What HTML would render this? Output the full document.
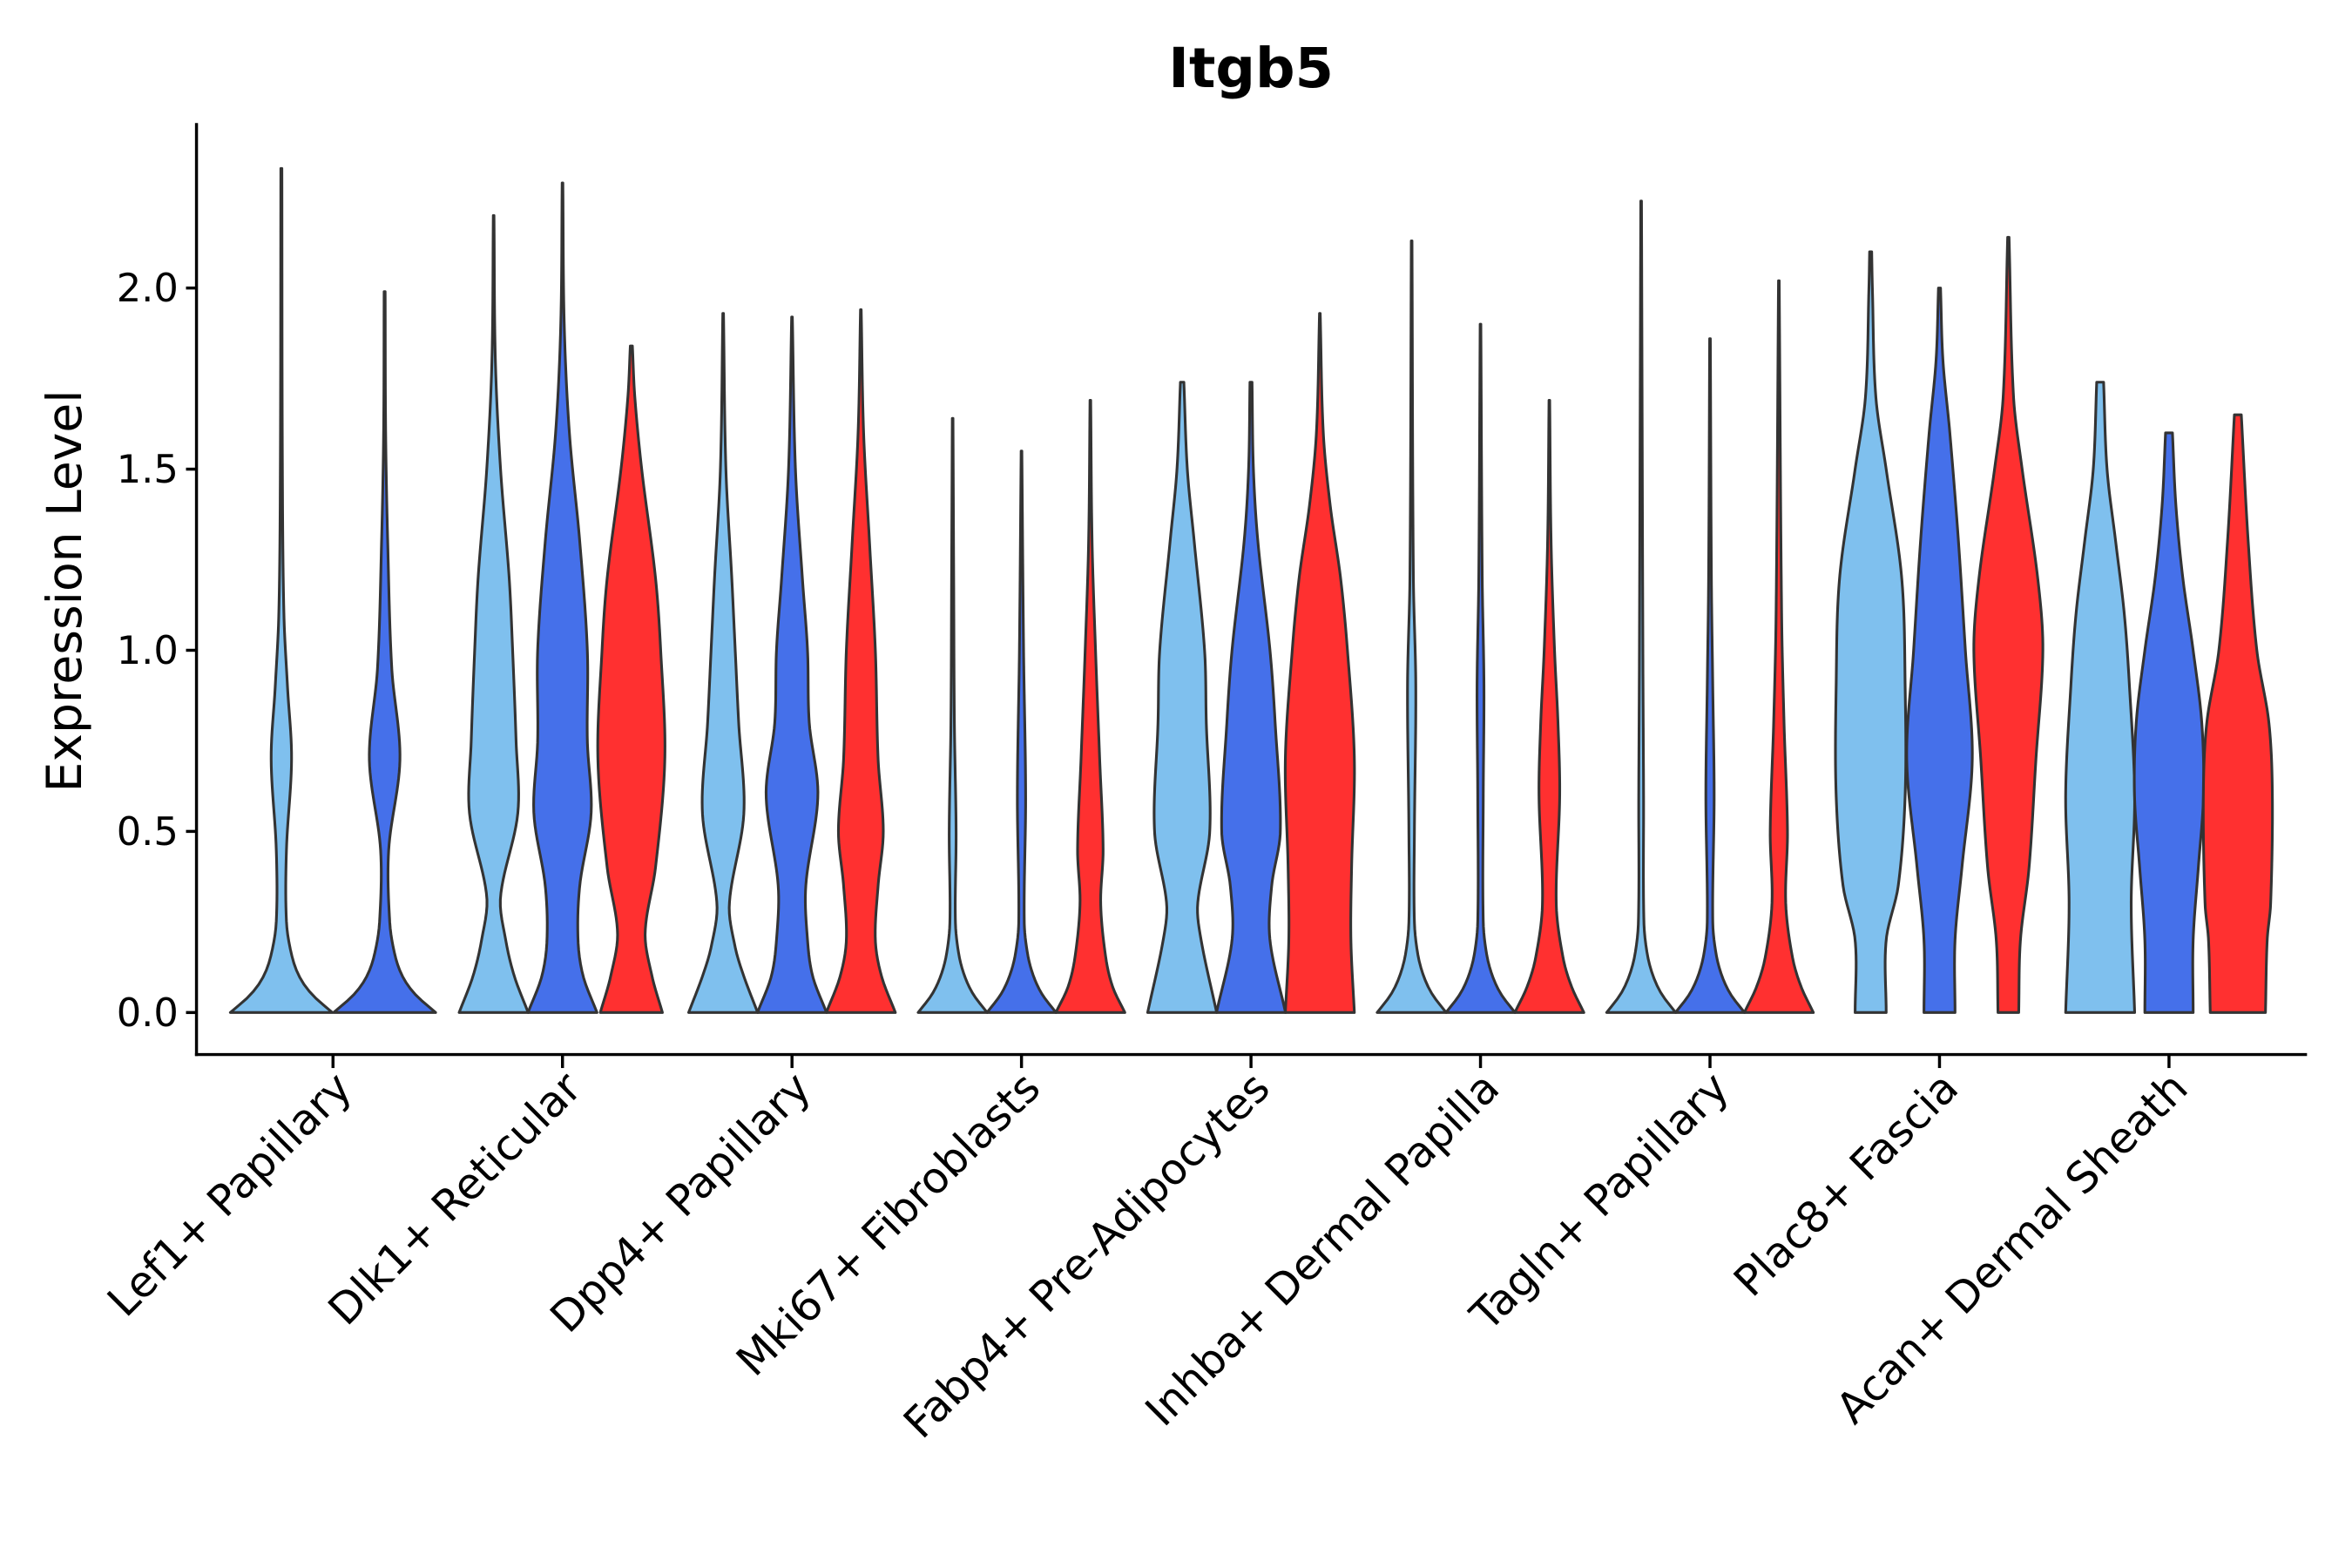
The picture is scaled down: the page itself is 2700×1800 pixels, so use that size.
<!DOCTYPE html>
<html><head><meta charset="utf-8"><style>
html,body{margin:0;padding:0;background:#fff;}
svg{display:block;}
text{font-family:"DejaVu Sans","Liberation Sans",sans-serif;}
</style></head><body>
<svg id="chart" width="2700" height="1800" viewBox="0 0 1568 1045.3" xmlns="http://www.w3.org/2000/svg">
<rect width="1568" height="1046" fill="#fff"/>
<text x="834" y="58" text-anchor="middle" font-size="37" font-weight="bold">Itgb5</text>
<g id="violins"></g>
<g id="axes"></g>
<text transform="translate(54,394) rotate(-90)" text-anchor="middle" font-size="32">Expression Level</text>
</svg>
<script>
const categories = ["Lef1+ Papillary","Dlk1+ Reticular","Dpp4+ Papillary","Mki67+ Fibroblasts","Fabp4+ Pre-Adipocytes","Inhba+ Dermal Papilla","Tagln+ Papillary","Plac8+ Fascia","Acan+ Dermal Sheath"];
const groupsPerCategory = [2,3,3,3,3,3,3,3,3];
const yTicks = [0,0.5,1,1.5,2];
const yTickLabels = ["0.0","0.5","1.0","1.5","2.0"];
// each violin: [y, relativeWidth] knots; last knot = top
const violinProfiles = [
 [[[0,1],[0.05,0.6],[0.1,0.35],[0.16,0.2],[0.25,0.1],[0.45,0.1],[0.7,0.2],[0.9,0.12],[1.1,0.05],[1.5,0.02],[2.33,0.01]],
  [[0,1],[0.05,0.6],[0.1,0.35],[0.16,0.2],[0.25,0.1],[0.45,0.08],[0.7,0.3],[0.95,0.14],[1.3,0.06],[1.6,0.02],[1.99,0.01]]],
 [[[0,1],[0.1,0.6],[0.2,0.35],[0.32,0.2],[0.55,0.7],[0.75,0.65],[1.0,0.55],[1.2,0.45],[1.5,0.2],[1.8,0.05],[2.2,0.01]],
  [[0,1],[0.1,0.6],[0.2,0.45],[0.35,0.5],[0.55,0.83],[0.75,0.72],[1.0,0.72],[1.3,0.5],[1.6,0.2],[1.9,0.05],[2.29,0.01]],
  [[0,0.9],[0.1,0.6],[0.22,0.4],[0.4,0.7],[0.7,0.97],[1.0,0.85],[1.2,0.7],[1.5,0.3],[1.7,0.1],[1.84,0.03]]],
 [[[0,1],[0.1,0.6],[0.18,0.35],[0.3,0.18],[0.55,0.6],[0.8,0.45],[1.0,0.35],[1.2,0.25],[1.5,0.08],[1.93,0.01]],
  [[0,1],[0.1,0.6],[0.2,0.45],[0.35,0.4],[0.6,0.75],[0.8,0.5],[1.0,0.45],[1.2,0.3],[1.5,0.1],[1.92,0.01]],
  [[0,1],[0.1,0.6],[0.2,0.42],[0.35,0.5],[0.5,0.65],[0.7,0.5],[1.0,0.42],[1.3,0.25],[1.6,0.08],[1.94,0.01]]],
 [[[0,1],[0.05,0.6],[0.1,0.35],[0.16,0.18],[0.25,0.08],[0.5,0.1],[0.8,0.05],[1.2,0.03],[1.64,0.01]],
  [[0,1],[0.05,0.6],[0.1,0.35],[0.16,0.18],[0.25,0.08],[0.6,0.12],[1.0,0.06],[1.55,0.01]],
  [[0,1],[0.07,0.65],[0.15,0.45],[0.3,0.3],[0.45,0.37],[0.7,0.27],[1.0,0.15],[1.3,0.05],[1.69,0.01]]],
 [[[0,1],[0.2,0.55],[0.3,0.45],[0.5,0.8],[0.8,0.7],[1.0,0.65],[1.3,0.35],[1.5,0.15],[1.74,0.05]],
  [[0,1],[0.2,0.55],[0.35,0.6],[0.5,0.85],[0.8,0.7],[1.0,0.55],[1.3,0.2],[1.5,0.07],[1.74,0.03]],
  [[0,1],[0.2,0.9],[0.4,0.92],[0.7,1.0],[1.0,0.8],[1.2,0.6],[1.4,0.3],[1.6,0.1],[1.93,0.01]]],
 [[[0,1],[0.05,0.6],[0.1,0.35],[0.16,0.18],[0.25,0.08],[0.5,0.08],[0.9,0.12],[1.2,0.05],[2.13,0.01]],
  [[0,1],[0.05,0.6],[0.1,0.35],[0.16,0.18],[0.25,0.08],[0.6,0.08],[0.9,0.1],[1.2,0.05],[1.9,0.01]],
  [[0,1],[0.07,0.65],[0.15,0.4],[0.3,0.2],[0.6,0.3],[0.8,0.25],[1.0,0.15],[1.3,0.05],[1.69,0.01]]],
 [[[0,1],[0.05,0.6],[0.1,0.35],[0.16,0.18],[0.25,0.08],[0.6,0.07],[1.0,0.05],[2.24,0.01]],
  [[0,1],[0.05,0.6],[0.1,0.35],[0.16,0.18],[0.25,0.08],[0.6,0.12],[0.9,0.08],[1.2,0.04],[1.86,0.01]],
  [[0,1],[0.07,0.65],[0.15,0.4],[0.3,0.2],[0.5,0.25],[0.8,0.15],[1.1,0.08],[2.02,0.01]]],
 [[[0,0.45],[0.2,0.45],[0.35,0.8],[0.6,1.0],[0.9,1.0],[1.2,0.9],[1.5,0.45],[1.7,0.15],[2.0,0.05],[2.1,0.03]],
  [[0,0.45],[0.2,0.45],[0.4,0.65],[0.7,0.95],[1.0,0.75],[1.3,0.55],[1.6,0.3],[1.8,0.1],[2.0,0.03]],
  [[0,0.3],[0.2,0.35],[0.4,0.6],[0.7,0.8],[1.0,1.0],[1.2,0.85],[1.5,0.4],[1.7,0.15],[2.14,0.02]]],
 [[[0,1],[0.3,0.9],[0.6,1.0],[0.9,0.85],[1.1,0.7],[1.3,0.45],[1.5,0.2],[1.74,0.1]],
  [[0,0.7],[0.2,0.7],[0.4,0.85],[0.6,1.0],[0.8,0.95],[1.0,0.7],[1.2,0.4],[1.4,0.2],[1.6,0.1]],
  [[0,0.8],[0.2,0.85],[0.3,0.95],[0.6,1.0],[0.8,0.9],[1.0,0.55],[1.3,0.3],[1.65,0.1]]]
];
const groupColors = ["#7FC0EE","#4570EA","#FF3030"];

const NS="http://www.w3.org/2000/svg";
const X0=131, X1=1538, Y_AXIS=703, Y_TOP=82;
const catX0=222, catStep=153;
function xScale(i){return catX0+i*catStep;}
function yScale(v){return 675 - v*241.5;}
function mk(tag,attrs,parent){const e=document.createElementNS(NS,tag);for(const k in attrs)e.setAttribute(k,attrs[k]);parent.appendChild(e);return e;}
function interp(knots,y){
  for(let i=0;i<knots.length-1;i++){
    const a=knots[i],b=knots[i+1];
    if(y>=a[0]&&y<=b[0]){
      const p0=knots[Math.max(0,i-1)],p3=knots[Math.min(knots.length-1,i+2)];
      const t=(y-a[0])/(b[0]-a[0]||1);
      const m1=(b[1]-p0[1])/((b[0]-p0[0])||1)*(b[0]-a[0]);
      const m2=(p3[1]-a[1])/((p3[0]-a[0])||1)*(b[0]-a[0]);
      const t2=t*t,t3=t2*t;
      let v=(2*t3-3*t2+1)*a[1]+(t3-2*t2+t)*m1+(-2*t3+3*t2)*b[1]+(t3-t2)*m2;
      return Math.max(0.005,v);
    }
  }
  return knots[knots.length-1][1];
}
const vg=document.getElementById('violins');
categories.forEach((c,ci)=>{
  const n=groupsPerCategory[ci];
  const off = n===2?[-0.225,0.225]:[-0.3,0,0.3];
  const hw = n===2?34:23;
  violinProfiles[ci].forEach((knots,gi)=>{
    const cx=xScale(ci)+off[gi]*catStep;
    const top=knots[knots.length-1][0];
    const N=120; const R=[],L=[];
    for(let k=0;k<=N;k++){const y=top*k/N;const w=interp(knots,y)*hw;R.push([cx+w,yScale(y)]);L.push([cx-w,yScale(y)]);}
    let d="M"+L[0][0].toFixed(2)+","+L[0][1].toFixed(2);
    R.forEach(p=>d+="L"+p[0].toFixed(2)+","+p[1].toFixed(2));
    for(let k=L.length-1;k>=0;k--)d+="L"+L[k][0].toFixed(2)+","+L[k][1].toFixed(2);
    d+="Z";
    const p=mk('path',{d:d,fill:groupColors[gi],stroke:"#333",'stroke-width':1.8,'stroke-linejoin':'round'},vg);
    
    
  });
});
const ag=document.getElementById('axes');
const yl=mk('line',{x1:X0,y1:Y_TOP,x2:X0,y2:Y_AXIS+1,stroke:"#000",'stroke-width':2},ag);


const xl=mk('line',{x1:X0-1,y1:Y_AXIS,x2:X1,y2:Y_AXIS,stroke:"#000",'stroke-width':2},ag);


yTicks.forEach((v,i)=>{
  const y=yScale(v);
  const t=mk('line',{x1:X0-7,y1:y,x2:X0,y2:y,stroke:"#000",'stroke-width':2},ag);
  
  
  const tx=mk('text',{x:X0-12,y:y+9,'text-anchor':'end','font-size':26},ag);
  tx.textContent=yTickLabels[i];
  
  
});
categories.forEach((c,i)=>{
  const x=xScale(i);
  const t=mk('line',{x1:x,y1:Y_AXIS,x2:x,y2:Y_AXIS+9,stroke:"#000",'stroke-width':2},ag);
  
  
  const tx=mk('text',{transform:`translate(${x+14},${Y_AXIS+24}) rotate(-45)`,'text-anchor':'end','font-size':28.5},ag);
  tx.textContent=c;
  
  
});
</script>
</body></html>
